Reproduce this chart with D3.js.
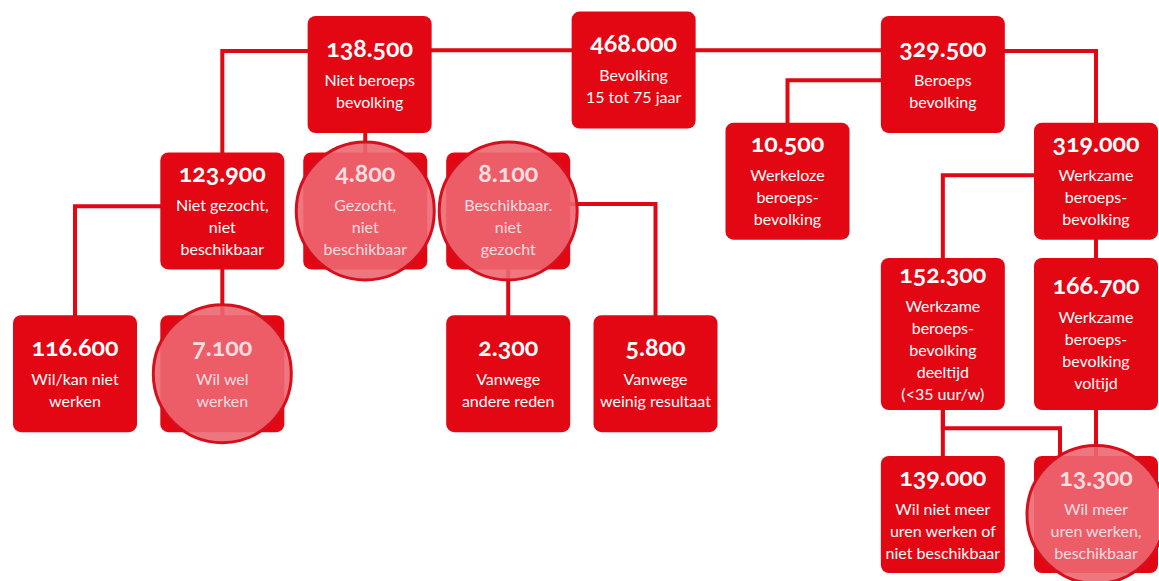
<!DOCTYPE html>
<html>
<head>
<meta charset="utf-8">
<script src="https://cdn.jsdelivr.net/npm/d3@7"></script>
<style>
  body { margin: 0; background: #fff; }
  text { font-family: Lato, "Open Sans", sans-serif; text-anchor: middle; }
  .num { font-weight: bold; font-size: 25px; font-feature-settings: "onum" 1; }
  .lbl { font-size: 16px; }
</style>
</head>
<body>
<div id="chart"></div>
<script>
// numbers per box
var values = ["468.000", "138.500", "329.500", "123.900", "4.800", "8.100", "10.500", "319.000",
              "116.600", "7.100", "2.300", "5.800", "152.300", "166.700", "139.000", "13.300"];

var labels = [
  ["Bevolking", "15 tot 75 jaar"],
  ["Niet beroeps", "bevolking"],
  ["Beroeps", "bevolking"],
  ["Niet gezocht,", "niet", "beschikbaar"],
  ["Gezocht,", "niet", "beschikbaar"],
  ["Beschikbaar.", "niet", "gezocht"],
  ["Werkeloze", "beroeps-", "bevolking"],
  ["Werkzame", "beroeps-", "bevolking"],
  ["Wil/kan niet", "werken"],
  ["Wil wel", "werken"],
  ["Vanwege", "andere reden"],
  ["Vanwege", "weinig resultaat"],
  ["Werkzame", "beroeps-", "bevolking", "deeltijd", "(<35 uur/w)"],
  ["Werkzame", "beroeps-", "bevolking", "voltijd"],
  ["Wil niet meer", "uren werken of", "niet beschikbaar"],
  ["Wil meer", "uren werken,", "beschikbaar"]
];

// grid position of each box (column / row units)
var cols = [3.83, 2.02, 5.95, 1.01, 1.99, 2.97, 4.885, 7, 0, 1.01, 2.97, 3.98, 5.95, 7, 5.95, 7];
var rows = [-0.04, 0, 0, 1.24, 1.24, 1.24, 0.97, 0.97, 2.72, 2.72, 2.72, 2.72, 2.2, 2.2, 4, 4];

// boxes marked with a circle
var circled = [4, 5, 9, 15];

// [parent, child, exit level (share of parent height), shift of child entry]
var links = [
  [0, 1, 0.33, 0], [0, 2, 0.33, 0], [1, 3, 0.3, 0], [1, 4, 0.5, 0],
  [2, 6, 0.55, 0], [2, 7, 0.3, 0], [3, 8, 0.46, 0], [3, 9, 0.5, 0],
  [5, 10, 0.5, 0], [5, 11, 0.44, 0], [7, 12, 0.45, 0], [7, 13, 0.5, 0],
  [12, 14, 0.5, 0], [12, 15, 1.12, -36], [13, 15, 0.5, 0]
];

var width = 1159, height = 581;
var red = "#e30613";
var boxW = 124, minH = 117, lineH = 22, numGap = 29;

var x = d3.scaleLinear().domain([0, 7]).range([75, 1096]);
var y = d3.scaleLinear().domain([0, 4]).range([16, 456]);

function blockH(n) { return 52 + (n - 1) * lineH; }

var nodes = values.map(function(v, i) {
  return { id: i, value: v, lines: labels[i], cx: x(cols[i]), top: y(rows[i]), row: rows[i] };
});

// boxes in the same row share the height of the tallest text
nodes.forEach(function(d) {
  var need = d3.max(nodes.filter(function(e) { return e.row === d.row; }), function(e) {
    return blockH(e.lines.length) + 12;
  });
  d.h = Math.max(minH, need);
  d.cy = d.top + d.h / 2;
});

var svg = d3.select("#chart")
  .append("svg")
  .attr("width", width)
  .attr("height", height);

svg.selectAll(".link")
  .data(links)
  .enter()
  .append("path")
  .attr("class", "link")
  .attr("fill", "none")
  .attr("stroke", red)
  .attr("stroke-width", 4)
  .attr("d", function(l) {
    var p = nodes[l[0]], c = nodes[l[1]];
    var ey = p.top + l[2] * p.h;
    var tx = c.cx + l[3];
    return "M" + p.cx + "," + p.cy + "V" + ey + "H" + tx + "V" + c.cy;
  });

svg.selectAll(".box")
  .data(nodes)
  .enter()
  .append("rect")
  .attr("class", "box")
  .attr("x", function(d) { return d.cx - boxW / 2; })
  .attr("y", function(d) { return d.top; })
  .attr("width", boxW)
  .attr("height", function(d) { return d.h; })
  .attr("rx", 8)
  .attr("fill", red);

svg.selectAll(".ring")
  .data(circled.map(function(i) { return nodes[i]; }))
  .enter()
  .append("circle")
  .attr("class", "ring")
  .attr("cx", function(d) { return d.cx; })
  .attr("cy", function(d) { return d.cy; })
  .attr("r", 69)
  .attr("fill", "#ec6771")
  .attr("fill-opacity", 0.9)
  .attr("stroke", "#d70f1d")
  .attr("stroke-width", 3);

var g = svg.selectAll(".txt")
  .data(nodes)
  .enter()
  .append("g")
  .attr("class", "txt")
  .attr("fill", function(d) { return circled.indexOf(d.id) >= 0 ? "#fbdde0" : "#fff"; });

g.append("text")
  .attr("class", "num")
  .attr("x", function(d) { return d.cx; })
  .attr("y", function(d) { return d.top + (d.h - blockH(d.lines.length)) / 2 + 19; })
  .text(function(d) { return d.value; });

g.each(function(d) {
  var base = d.top + (d.h - blockH(d.lines.length)) / 2 + 19 + numGap;
  d3.select(this).selectAll(".lbl")
    .data(d.lines)
    .enter()
    .append("text")
    .attr("class", "lbl")
    .attr("x", d.cx)
    .attr("y", function(t, i) { return base + i * lineH; })
    .text(function(t) { return t; });
});
</script>
</body>
</html>
